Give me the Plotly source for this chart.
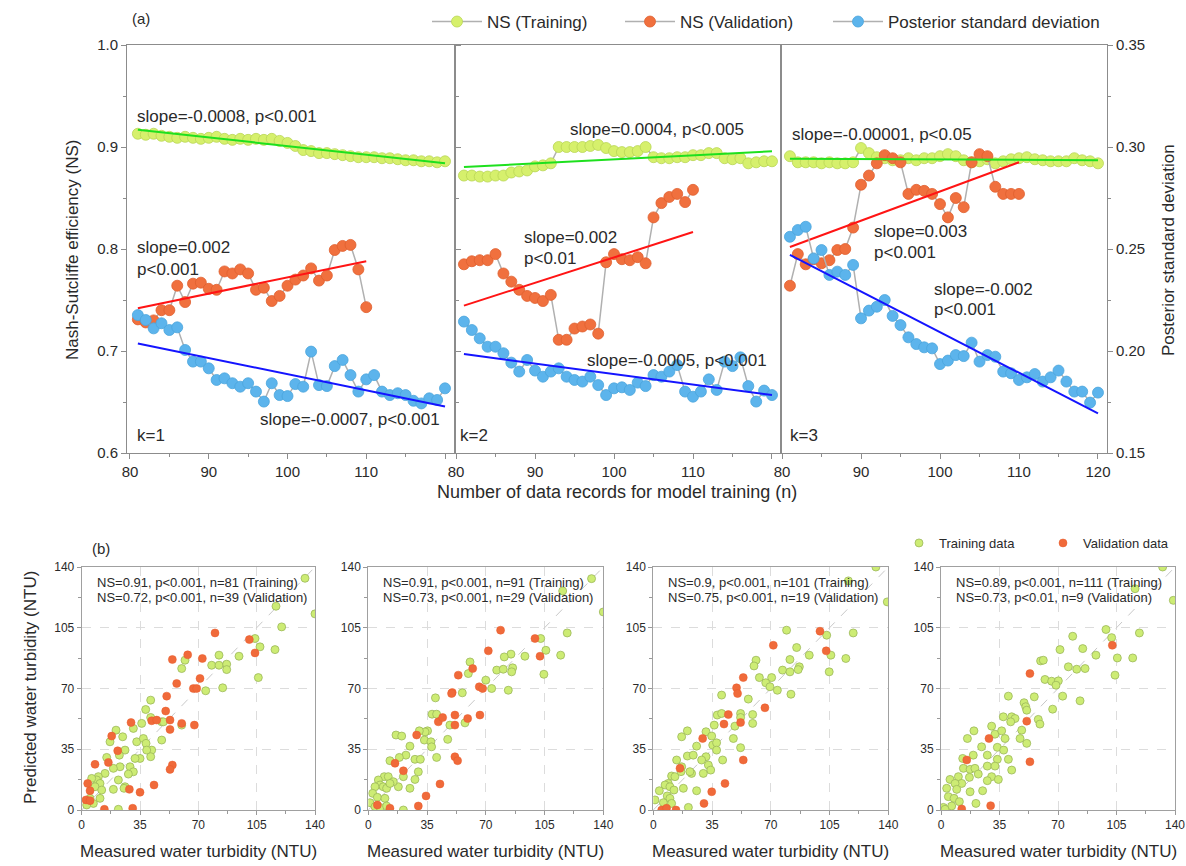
import plotly.graph_objects as go

W, H = 1186, 866

# ---------------- data: panel (a) ----------------
n_all = list(range(81, 121))
n_val = list(range(81, 111))

k1_ns_train = [0.913, 0.912, 0.913, 0.911, 0.910, 0.909, 0.910, 0.909, 0.908, 0.909,
               0.910, 0.908, 0.907, 0.908, 0.907, 0.908, 0.907, 0.908, 0.906, 0.904,
               0.901, 0.897, 0.896, 0.894, 0.894, 0.893, 0.892, 0.891, 0.890, 0.890,
               0.890, 0.889, 0.889, 0.888, 0.887, 0.887, 0.886, 0.886, 0.885, 0.886]
k1_ns_val = [0.731, 0.728, 0.730, 0.740, 0.740, 0.764, 0.748, 0.766, 0.767, 0.761,
             0.760, 0.778, 0.776, 0.780, 0.776, 0.760, 0.762, 0.749, 0.754, 0.764,
             0.770, 0.774, 0.781, 0.769, 0.774, 0.799, 0.803, 0.804, 0.780, 0.743]
k1_sd = [0.2176, 0.2152, 0.2111, 0.2136, 0.2103, 0.2116, 0.2005, 0.1948, 0.1948, 0.1915,
         0.1858, 0.1866, 0.1842, 0.1825, 0.1842, 0.1801, 0.1752, 0.1842, 0.1784, 0.1779,
         0.1838, 0.1825, 0.1997, 0.1833, 0.1828, 0.1926, 0.1956, 0.1882, 0.1801, 0.1861,
         0.1882, 0.1801, 0.1784, 0.1793, 0.1784, 0.1756, 0.1743, 0.1768, 0.1760, 0.1817]

k2_ns_train = [0.872, 0.872, 0.871, 0.871, 0.872, 0.872, 0.875, 0.876, 0.877, 0.881,
               0.882, 0.884, 0.900, 0.900, 0.900, 0.900, 0.901, 0.902, 0.899, 0.896,
               0.895, 0.895, 0.896, 0.900, 0.890, 0.889, 0.889, 0.890, 0.890, 0.892,
               0.892, 0.894, 0.894, 0.889, 0.888, 0.889, 0.884, 0.885, 0.886, 0.886]
k2_ns_val = [0.785, 0.788, 0.789, 0.789, 0.795, 0.776, 0.768, 0.760, 0.754, 0.752,
             0.749, 0.755, 0.711, 0.711, 0.722, 0.724, 0.726, 0.717, 0.787, 0.795,
             0.790, 0.789, 0.792, 0.786, 0.831, 0.845, 0.851, 0.854, 0.846, 0.858]
k2_sd = [0.2144, 0.2103, 0.2062, 0.2021, 0.2021, 0.1989, 0.1943, 0.1899, 0.1956, 0.1904,
         0.1874, 0.1899, 0.1915, 0.1874, 0.1858, 0.1850, 0.1874, 0.1833, 0.1784, 0.1817,
         0.1822, 0.1809, 0.1845, 0.1828, 0.1882, 0.1874, 0.1899, 0.1931, 0.1801, 0.1776,
         0.1801, 0.1861, 0.1809, 0.1948, 0.1926, 0.1969, 0.1828, 0.1752, 0.1806, 0.1784]

k3_ns_train = [0.891, 0.885, 0.885, 0.885, 0.884, 0.885, 0.884, 0.884, 0.885, 0.899,
               0.894, 0.890, 0.889, 0.887, 0.887, 0.889, 0.887, 0.889, 0.889, 0.891,
               0.893, 0.891, 0.887, 0.885, 0.886, 0.888, 0.884, 0.886, 0.888, 0.889,
               0.890, 0.888, 0.887, 0.886, 0.886, 0.886, 0.889, 0.887, 0.886, 0.884]
k3_ns_val = [0.764, 0.795, 0.785, 0.790, 0.786, 0.789, 0.799, 0.800, 0.821, 0.863,
             0.872, 0.884, 0.892, 0.889, 0.885, 0.854, 0.858, 0.857, 0.854, 0.844,
             0.831, 0.850, 0.841, 0.885, 0.893, 0.891, 0.861, 0.854, 0.854, 0.854]
k3_sd = [0.2560, 0.2593, 0.2609, 0.2454, 0.2495, 0.2373, 0.2389, 0.2373, 0.2422, 0.2160,
         0.2198, 0.2217, 0.2250, 0.2172, 0.2127, 0.2067, 0.2034, 0.2018, 0.2013, 0.1936,
         0.1953, 0.1980, 0.1975, 0.2041, 0.1948, 0.1980, 0.1972, 0.1899, 0.1891, 0.1858,
         0.1871, 0.1887, 0.1850, 0.1871, 0.1904, 0.1850, 0.1801, 0.1801, 0.1747, 0.1796]

# fitted trend lines (start, end values)
trend_n_all = [81, 120]
trend_n_val = [81, 110]
k1_trend_train = [0.917, 0.884]
k1_trend_val = [0.742, 0.788]
k1_trend_sd = [0.2037, 0.1728]
k2_trend_train = [0.8804, 0.8958]
k2_trend_val = [0.7445, 0.8166]
k2_trend_sd = [0.1985, 0.1784]
k3_trend_train = [0.8886, 0.8870]
k3_trend_val = [0.802, 0.885]
k3_trend_sd = [0.2471, 0.1694]

panel_a_labels = ["k=1", "k=2", "k=3"]

# ---------------- data: panel (b) (measured, predicted) ----------------
p1_train = [(120, 105.5), (104, 98.8), (107, 94), (116, 92.4), (106, 76.3), (94.4, 88.6), (82.4, 89.2),
            (78, 83.4), (82.4, 83.4), (87, 84), (87, 80.9), (84.6, 70.4), (74.4, 68.7), (62, 86.3),
            (60, 81.5), (38.4, 57.9), (41.4, 63.3), (41.4, 53.3), (48, 50.8), (49, 50.8), (60, 48.9),
            (48, 40.3), (36, 49.9), (31, 47), (20.6, 46), (17, 39.3), (24.6, 42.2), (33, 39.3),
            (37, 41.2), (38.6, 38.4), (42, 34.5), (39, 34.5), (41.4, 30.7), (35, 29.7), (32, 29.7),
            (26, 34.5), (22.6, 31.6), (29, 24.9), (31, 22), (28, 20.7), (23, 24.9), (19, 24),
            (15, 30.3), (14, 21.1), (10, 19.2), (9, 17.3), (11, 15.3), (6, 18.2), (8, 13.4),
            (12, 11.5), (11, 6.7), (7, 3.8), (3, 2.9), (22, 17.3), (19, 11.9), (26, 13.4),
            (25.4, 12.5), (22, 0.4), (5, 6.7), (134, 133.5), (140, 113), (116.6, 117.4)]
p1_val = [(80, 102), (100.6, 98.2), (104, 90.5), (72.4, 87.3), (63.6, 89.4), (54.4, 86.7), (57, 72.9),
          (71, 75.8), (67, 70), (69, 70), (51, 65.6), (50.4, 57), (53, 51.8), (53, 46.4), (60, 49.9),
          (67.6, 48.9), (29.6, 50.4), (42, 51.4), (45, 51.8), (18, 42.6), (21.6, 34.1), (16, 27.4),
          (8, 26.3), (54.4, 25.9), (53, 23.4), (43.4, 14.4), (35, 10.2), (28.6, 11.9), (5, 11.1),
          (3.6, 15.3), (2.6, 5.8), (5, 5.4), (13.6, 0.4), (30.6, 1)]

p2_train = [(133, 133.3), (115.8, 126.2), (140, 114.1), (118.5, 102), (102.7, 98.8), (105.8, 92),
            (114.6, 89.2), (93.3, 88.6), (85, 89.8), (81, 88.2), (76.5, 80.6), (80.4, 81.1), (86, 81.9),
            (85.4, 79.6), (104.6, 78.2), (70, 74.8), (73.5, 70), (83.4, 69), (60.6, 85.3), (59.6, 78.6),
            (56, 67.5), (40, 64.6), (38, 55.2), (40.7, 55.2), (57.6, 50.2), (48.6, 48.9), (35.3, 45.6),
            (33.8, 45), (30.4, 45.6), (16.5, 43.2), (19.9, 42.6), (47.3, 40.7), (33.4, 40.3), (37.3, 39.3),
            (37.7, 36.4), (40.7, 30.3), (24.8, 36.8), (22.4, 31.6), (18.5, 30.3), (27.8, 29.2), (31, 29.2),
            (12.9, 28.4), (29.8, 22), (27.8, 17.6), (24.8, 12.5), (17.9, 13.4), (20.9, 19.2), (9.5, 19.2),
            (11.9, 19.2), (6, 17.3), (7, 14.4), (4, 13.4), (8.9, 13.4), (10.9, 12.5), (2.6, 9.6),
            (5.4, 7.3), (9.9, 6.7), (1, 4.2), (4, 1.9), (7, 1.5), (10.9, 2.3), (20.9, 0), (14.9, 16.3),
            (12.9, 15.3)]
p2_val = [(78.8, 103.6), (99.3, 98.8), (102.3, 88.6), (71.5, 91.7), (62.2, 81.5), (53.6, 77.7),
          (50, 67.7), (49.6, 67.1), (66.1, 71), (68.1, 70), (51.6, 54.7), (51.6, 48.9), (59.2, 52.7),
          (66.5, 54.7), (41.7, 50.8), (44.3, 53.3), (28.8, 43.2), (51.6, 30.7), (53.2, 28.4),
          (15.9, 26.9), (20.9, 22.6), (42.7, 15), (34.4, 8.1), (29.8, 2.3), (12.9, 1), (5.4, 2.9)]

p3_train = [(132.6, 140), (139.4, 119.9), (116.2, 132), (79.4, 103.6), (103.3, 100.7), (119.1, 102),
            (85.4, 93.6), (92.9, 89.2), (105.8, 89.2), (114.7, 87.3), (104.8, 79.6), (81.4, 86.7),
            (87, 82.5), (77, 80.6), (81.4, 79.6), (86.3, 80.9), (61.2, 86.3), (60, 83), (63.2, 76.3),
            (70.5, 76.3), (67, 73.3), (69.5, 71), (73.9, 69), (82, 66.7), (40.7, 66.2), (56.6, 63.9),
            (38.1, 54.7), (40.7, 55.6), (52, 55.6), (52, 53.3), (59.2, 55), (59.2, 49.9), (36.3, 48.9),
            (48.6, 48.3), (47.7, 41.2), (52, 35.9), (20.3, 45.6), (16.9, 42.2), (31.4, 45.1),
            (34.8, 42.6), (35.4, 37.4), (37.7, 38.7), (37.7, 34.5), (41.3, 28.8), (31.4, 30.7),
            (25.8, 36.8), (20.3, 31.1), (28.8, 28.8), (32.8, 25.9), (34.2, 23), (29.8, 21.1),
            (22.8, 21.1), (23.8, 31.6), (13.9, 28.8), (16.9, 24.9), (10.9, 19.6), (12.9, 19.2),
            (16.5, 22.1), (8.9, 15.3), (7, 14.4), (9.9, 13.4), (17.9, 12.5), (25.8, 11.1), (21.8, 22.1),
            (12.3, 11.5), (8.3, 8.1), (9.9, 6.7), (3.6, 11.1), (1, 5.8), (6, 4.2), (10.9, 3.8),
            (20.9, 1.5)]
p3_val = [(99.3, 103), (103, 91.7), (71.5, 94.9), (53.6, 76.3), (49.6, 70.4), (50.2, 67.1),
          (66.5, 58.9), (44.7, 55), (42.1, 49.5), (52, 50.4), (29.4, 41.2), (53.6, 28.8), (15.9, 24),
          (42.7, 15.3), (34.8, 10.5), (30.2, 3.8), (13.5, 0), (5, 0), (7.9, 1)]

p4_train = [(132.6, 140), (116.1, 127.5), (139, 120.8), (98.7, 104), (78.8, 100.1), (102.1, 99.3),
            (118.7, 102), (84.8, 93), (71.2, 92.4), (92.7, 89.2), (105.5, 87.6), (114.7, 87.6),
            (59.6, 85.9), (61.2, 86.3), (76.2, 82.5), (81.2, 81.1), (86.2, 81.5), (104.1, 77.7),
            (62.2, 75.2), (66.2, 74.2), (70.2, 74.4), (68.8, 71.9), (72.8, 65.6), (40.3, 65.6),
            (55.8, 65.2), (83.2, 62.9), (49.7, 61.8), (50.7, 59.5), (51.3, 57.5), (66.8, 58.1),
            (37.3, 53.7), (42.3, 53.7), (44.3, 52.7), (58.2, 52.2), (59.2, 49.5), (41.7, 50.8),
            (48.3, 46), (30.3, 48.3), (32.3, 43.7), (36.3, 45.6), (38.3, 41.2), (47.3, 41.2),
            (51.3, 38.4), (19.7, 45.6), (15.8, 41.2), (33.7, 36.1), (37.5, 34.5), (40.3, 29.2),
            (33.7, 29.2), (27.7, 31.6), (24.3, 36.4), (19.3, 31.6), (13, 29.7), (27.7, 25.3),
            (32.3, 25.3), (42.3, 23), (13.4, 24), (17.4, 23.4), (20.3, 24), (22.3, 20.7), (30.3, 19.2),
            (34.3, 17.6), (27.7, 16.9), (17, 18.8), (5.4, 17.6), (10.4, 19.2), (12.4, 15.3),
            (8.4, 15.3), (3.4, 12.5), (9.4, 11.9), (17.4, 10.5), (24.9, 11.1), (20.9, 3.8), (4.4, 7.7),
            (7.8, 6.7), (11, 4.8), (6.4, 2.3), (1.4, 1.5), (2.4, 0.4)]
p4_val = [(102.5, 94.9), (53.2, 78.6), (51.3, 51.2), (28.7, 41.2), (15.4, 28.8), (53.2, 27.8),
          (29.7, 2.5), (12.4, 0.6)]

panel_b_stats = [
    ("NS=0.91, p<0.001, n=81 (Training)", "NS=0.72, p<0.001, n=39 (Validation)"),
    ("NS=0.91, p<0.001, n=91 (Training)", "NS=0.73, p<0.001, n=29 (Validation)"),
    ("NS=0.9, p<0.001, n=101 (Training)", "NS=0.75, p<0.001, n=19 (Validation)"),
    ("NS=0.89, p<0.001, n=111 (Training)", "NS=0.73, p<0.01, n=9 (Validation)"),
]
one_to_one = [0, 140]
turb_ticks = [0, 35, 70, 105, 140]

# ---------------- styling ----------------
FONT = "Arial, 'Liberation Sans', sans-serif"
TXT = "#2a2a2a"
GREEN, GREEN_E = "#d6f06c", "#b9d655"
RED, RED_E = "#f0703e", "#e0602e"
BLUE, BLUE_E = "#5cb4ec", "#4aa4dc"
CONNECT = "#b0b0b0"
FRAME = "#8c8c8c"


def px(x):
    return x / W


def py(y):
    return 1 - y / H


fig = go.Figure()

top = [
    (k1_ns_train, k1_ns_val, k1_sd, k1_trend_train, k1_trend_val, k1_trend_sd),
    (k2_ns_train, k2_ns_val, k2_sd, k2_trend_train, k2_trend_val, k2_trend_sd),
    (k3_ns_train, k3_ns_val, k3_sd, k3_trend_train, k3_trend_val, k3_trend_sd),
]
xa_top = ["x", "x2", "x3"]

for i, (tr, va, sd, ttr, tva, tsd) in enumerate(top):
    xa = xa_top[i]
    first = i == 0
    fig.add_trace(go.Scatter(x=n_all, y=tr, xaxis=xa, yaxis="y", mode="lines+markers",
                             name="NS (Training)", legend="legend", showlegend=first,
                             line=dict(color=CONNECT, width=1.5),
                             marker=dict(size=11, color=GREEN, line=dict(color=GREEN_E, width=0.8))))
    fig.add_trace(go.Scatter(x=n_val, y=va, xaxis=xa, yaxis="y", mode="lines+markers",
                             name="NS (Validation)", legend="legend3", showlegend=first,
                             line=dict(color=CONNECT, width=1.5),
                             marker=dict(size=11, color=RED, line=dict(color=RED_E, width=0.8))))
    fig.add_trace(go.Scatter(x=trend_n_all, y=ttr, xaxis=xa, yaxis="y", mode="lines",
                             showlegend=False, line=dict(color="#1ee01e", width=2)))
    fig.add_trace(go.Scatter(x=trend_n_val, y=tva, xaxis=xa, yaxis="y", mode="lines",
                             showlegend=False, line=dict(color="#ff1414", width=2)))

for i, (tr, va, sd, ttr, tva, tsd) in enumerate(top):
    xa = xa_top[i]
    first = i == 0
    fig.add_trace(go.Scatter(x=n_all, y=sd, xaxis=xa, yaxis="y2", mode="lines+markers",
                             name="Posterior standard deviation", legend="legend4", showlegend=first,
                             line=dict(color=CONNECT, width=1.5),
                             marker=dict(size=11, color=BLUE, line=dict(color=BLUE_E, width=0.8))))
    fig.add_trace(go.Scatter(x=trend_n_all, y=tsd, xaxis=xa, yaxis="y2", mode="lines",
                             showlegend=False, line=dict(color="#1414ff", width=2)))

bottom = [(p1_train, p1_val), (p2_train, p2_val), (p3_train, p3_val), (p4_train, p4_val)]
for j, (tr, va) in enumerate(bottom):
    xa, ya = f"x{4 + j}", f"y{3 + j}"
    first = j == 0
    fig.add_trace(go.Scatter(x=one_to_one, y=one_to_one, xaxis=xa, yaxis=ya, mode="lines",
                             showlegend=False, line=dict(color="#c8c8c8", width=1, dash="dash")))
    fig.add_trace(go.Scatter(x=[p[0] for p in tr], y=[p[1] for p in tr], xaxis=xa, yaxis=ya,
                             mode="markers", name="Training data", legend="legend2", showlegend=first,
                             marker=dict(size=8, color="#cdec74", line=dict(color="#9cb85a", width=0.8))))
    fig.add_trace(go.Scatter(x=[p[0] for p in va], y=[p[1] for p in va], xaxis=xa, yaxis=ya,
                             mode="markers", name="Validation data", legend="legend5", showlegend=first,
                             marker=dict(size=8, color="#f06a3a", line=dict(color="#e85a2a", width=0.5))))

# ---------------- axes ----------------
layout = dict(
    width=W, height=H, margin=dict(l=0, r=0, t=0, b=0, autoexpand=False),
    paper_bgcolor="white", plot_bgcolor="white",
    font=dict(family=FONT, color=TXT, size=15),
)

top_x_domains = [(127, 455), (455, 781), (781, 1107)]
top_x_ranges = [(79.62, 121.27), (79.87, 121.14), (79.87, 121.14)]
for i, key in enumerate(["xaxis", "xaxis2", "xaxis3"]):
    d0, d1 = top_x_domains[i]
    labels = ["80", "90", "100", "110", "120" if i == 2 else ""]
    layout[key] = dict(
        domain=[px(d0), px(d1)], range=list(top_x_ranges[i]), anchor="y", automargin=False,
        tickvals=[80, 90, 100, 110, 120], ticktext=labels,
        ticks="outside", ticklen=5, tickcolor=FRAME, tickfont=dict(size=15),
        minor=dict(tickvals=[85, 95, 105, 115], ticks="outside", ticklen=3, tickcolor=FRAME),
        showline=True, linecolor=FRAME, linewidth=1, mirror=True,
        showgrid=False, zeroline=False,
    )

layout["yaxis"] = dict(
    domain=[py(453), py(45)], range=[0.6, 1.0], anchor="x", automargin=False,
    tickvals=[0.6, 0.7, 0.8, 0.9, 1.0], tickformat=".1f",
    ticks="outside", ticklen=5, tickcolor=FRAME, tickfont=dict(size=15),
    minor=dict(tickvals=[0.65, 0.75, 0.85, 0.95], ticks="outside", ticklen=3, tickcolor=FRAME),
    showline=True, linecolor=FRAME, linewidth=1, mirror="all",
    showgrid=False, zeroline=False,
)
layout["yaxis2"] = dict(
    overlaying="y", side="right", anchor="x3", range=[0.15, 0.35], automargin=False,
    tickvals=[0.15, 0.20, 0.25, 0.30, 0.35], tickformat=".2f",
    ticks="outside", ticklen=5, tickcolor=FRAME, tickfont=dict(size=15),
    minor=dict(tickvals=[0.175, 0.225, 0.275, 0.325], ticks="outside", ticklen=3, tickcolor=FRAME),
    showline=True, linecolor=FRAME, linewidth=1,
    showgrid=False, zeroline=False,
)

bot_x_domains = [(81.7, 315), (368.3, 603.3), (653.3, 888.3), (941, 1175)]
for j in range(4):
    d0, d1 = bot_x_domains[j]
    common = dict(
        range=[0, 140], tickvals=turb_ticks, ticks="outside", ticklen=4, tickcolor="#999999",
        tickfont=dict(size=12), automargin=False,
        minor=dict(tickvals=[17.5, 52.5, 87.5, 122.5], ticks="outside", ticklen=3, tickcolor="#999999"),
        showline=True, linecolor="#a0a0a0", linewidth=1, mirror=True,
        showgrid=True, gridcolor="#dcdcdc", griddash="dash", gridwidth=1, zeroline=False,
    )
    layout[f"xaxis{4 + j}"] = dict(domain=[px(d0), px(d1)], anchor=f"y{3 + j}", **common)
    layout[f"yaxis{3 + j}"] = dict(domain=[py(810), py(567)], anchor=f"x{4 + j}", **common)

leg = dict(orientation="h", xanchor="left", yanchor="middle", bgcolor="rgba(0,0,0,0)",
           font=dict(size=17), borderwidth=0, itemwidth=50)
layout["legend"] = dict(leg, x=px(427), y=py(22))
layout["legend3"] = dict(leg, x=px(620), y=py(22))
layout["legend4"] = dict(leg, x=px(828), y=py(22))
leg2 = dict(leg, font=dict(size=13), itemwidth=30)
layout["legend2"] = dict(leg2, x=px(899), y=py(543))
layout["legend5"] = dict(leg2, x=px(1043), y=py(543))

fig.update_layout(**layout)

# ---------------- text ----------------
ann = []


def text(x, y, s, size=17, xanchor="left", angle=0):
    ann.append(dict(x=px(x), y=py(y), xref="paper", yref="paper", text=s, showarrow=False,
                    xanchor=xanchor, yanchor="middle", textangle=angle,
                    font=dict(size=size, color=TXT, family=FONT)))


text(130, 18, "(a)", 15)
text(90, 548, "(b)", 15)
text(72, 250, "Nash-Sutcliffe efficiency (NS)", 17, "center", -90)
text(1168, 250, "Posterior standard deviation", 17, "center", -90)
text(617, 492, "Number of data records for model training (n)", 18, "center")

text(135, 116, "slope=-0.0008, p<0.001")
text(135, 247, "slope=0.002")
text(135, 269, "p<0.001")
text(442, 419, "slope=-0.0007, p<0.001", xanchor="right")
text(135, 435, panel_a_labels[0])

text(568, 129, "slope=0.0004, p<0.005")
text(522, 237, "slope=0.002")
text(522, 258, "p<0.01")
text(585, 360, "slope=-0.0005, p<0.001")
text(458, 435, panel_a_labels[1])

text(790, 134, "slope=-0.00001, p<0.05")
text(872, 231, "slope=0.003")
text(872, 252, "p<0.001")
text(932, 289, "slope=-0.002")
text(932, 310, "p<0.001")
text(788, 435, panel_a_labels[2])

for j, (d0, d1) in enumerate(bot_x_domains):
    l1, l2 = panel_b_stats[j]
    text(d0 + 13, 582, l1, 13)
    text(d0 + 13, 597, l2, 13)
    text((d0 + d1) / 2, 851, "Measured water turbidity (NTU)", 17, "center")

text(30, 688, "Predicted water turbidity (NTU)", 17, "center", -90)

fig.update_layout(annotations=ann)
fig.write_html("out.html", config={"displayModeBar": False},
               post_script="document.body.style.margin='0px';")
